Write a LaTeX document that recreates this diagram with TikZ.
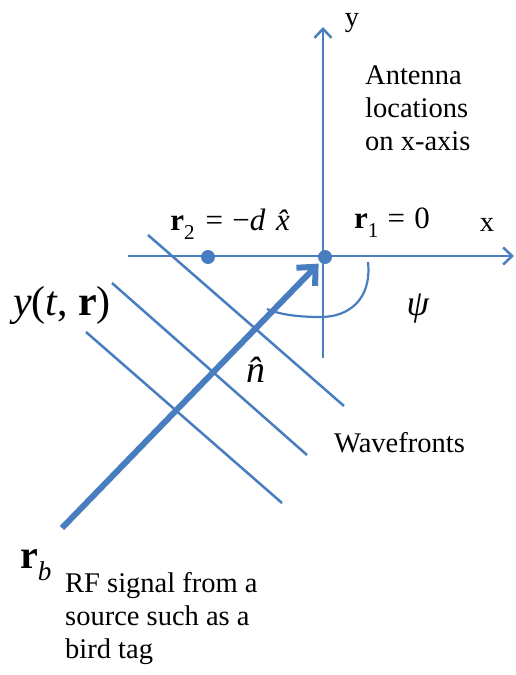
\documentclass[tikz,border=0pt]{standalone}
\usepackage{fontspec}
\usepackage{graphicx}
\setmainfont{Liberation Serif}
\usetikzlibrary{arrows.meta}
\definecolor{beam}{RGB}{72,125,192}
\newcommand\lowsub[1]{\raisebox{-0.3em}{\scalebox{0.68}{#1}}}
\tikzset{
  axis/.style={draw=beam,line width=2.5pt,-{Straight Barb[length=9pt,width=17pt]}},
  front/.style={draw=beam,line width=2.5pt},
  ray/.style={draw=beam,line width=6pt,-{Straight Barb[length=14pt,width=26pt]}},
  antenna/.style={circle,fill=beam,inner sep=0pt,minimum size=14pt},
  caption/.style={inner sep=0pt,font=\fontsize{28.5}{33}\selectfont,align=left},
  sym/.style={inner sep=0pt,font=\fontsize{#1}{#1}\selectfont},
  sym/.default=31
}

\begin{document}
\begin{tikzpicture}[x=1pt,y=-1pt]
  \useasboundingbox (0,0) rectangle (515,675);
  \coordinate (xl) at (128,256);
  \coordinate (xr) at (514,256);
  \coordinate (yb) at (323,358);
  \coordinate (yt) at (323,27);
  \coordinate (src) at (62,528);
  \draw[axis] (xl) -- (xr);
  \draw[axis] (yb) -- (yt);
  \foreach \i/\ax/\ay/\bx/\by in {1/148/235/344/406,2/112/283/307/455,3/86/332/282/503}
    \draw[front] (\ax,\ay) coordinate (w\i a) -- (\bx,\by) coordinate (w\i b);
  \node[antenna] (o) at (325,257) {};
  \node[antenna] (r2) at (208,257) {};
  \draw[ray,shorten >=2pt] (src) -- (o);
  \draw[front,line width=2.2pt] (368,262) .. controls (372,300) and (348,317) .. (321,317)
    .. controls (300,317) and (281,315) .. (267,309);
  % labels
  \node[caption,anchor=base] (ylbl) at (352,26) {y};
  \node[caption] (xlbl) at (487,225) {x};
  \node[caption,anchor=north west] (ant) at (365,65) {Antenna\\locations\\on x-axis};
  \node[sym,anchor=base] (r2lbl) at (236,230) {\textbf{r}\lowsub{2}\hspace{0.35em}=\hspace{0.3em}−\textit{d}\hspace{0.35em}\textit{\^{x}}};
  \node[sym,anchor=base] (r1lbl) at (392,228) {\textbf{r}\lowsub{1}\hspace{0.3em}=\hspace{0.3em}0};
  \node[sym=42,anchor=base] (ylabel) at (62,315) {\textit{y}(\textit{t}, \textbf{r})};
  \node[sym=38,anchor=base] (nlbl) at (263,382) {\textit{\^{n}}};
  \node[sym=36,anchor=base] (psi) at (418,315) {\textit{ψ}};
  \node[caption,anchor=base west] (wf) at (334,452) {Wavefronts};
  \node[sym=40,anchor=base west] (rb) at (20,568) {\textbf{r}\lowsub{\textit{b}}};
  \node[caption,anchor=base west] (rf) at (65,658) {RF signal from a\\source such as a\\bird tag};
\end{tikzpicture}
\end{document}
